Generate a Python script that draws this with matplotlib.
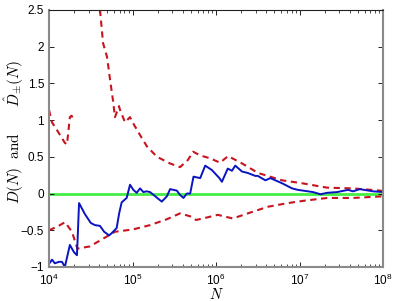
import numpy as np
import matplotlib
matplotlib.use("Agg")
import matplotlib.pyplot as plt
from matplotlib.ticker import FuncFormatter, LogLocator

plt.rcParams['font.family'] = ['Liberation Sans', 'DejaVu Sans']
plt.rcParams['mathtext.fontset'] = 'cm'

# D(N) (log10 N, value)
d_logn = [4.0, 4.036, 4.07, 4.12, 4.156, 4.19, 4.25, 4.30, 4.335, 4.36, 4.43, 4.50,
          4.55, 4.61, 4.66, 4.72, 4.75, 4.81, 4.84, 4.87, 4.93, 4.97, 5.01, 5.05,
          5.09, 5.13, 5.17, 5.21, 5.35, 5.41, 5.45, 5.53, 5.57, 5.61, 5.65, 5.69,
          5.73, 5.81, 5.87, 5.95, 6.04, 6.07, 6.14, 6.19, 6.23, 6.31, 6.38, 6.47,
          6.50, 6.59, 6.65, 6.71, 6.79, 6.91, 6.98, 7.04, 7.16, 7.25, 7.33, 7.45,
          7.58, 7.64, 7.72, 7.88, 8.0]
d_val = [-0.96, -0.90, -0.95, -0.93, -0.93, -1.0, -0.70, -0.80, -0.84, -0.13, -0.28, -0.40,
         -0.43, -0.44, -0.52, -0.57, -0.54, -0.47, -0.27, -0.12, -0.06, 0.12, 0.05, 0.01,
         0.07, 0.02, 0.03, 0.02, -0.11, -0.04, 0.06, 0.04, -0.02, -0.06, 0.0, 0.0,
         0.23, 0.21, 0.38, 0.32, 0.21, 0.16, 0.34, 0.31, 0.38, 0.30, 0.28, 0.24,
         0.24, 0.18, 0.21, 0.18, 0.14, 0.07, 0.05, 0.04, 0.02, -0.01, 0.01, 0.02,
         0.05, 0.03, 0.06, 0.03, 0.02]

# upper bound D+ (goes off the top between the two pieces)
up_logn = [4.0, 4.036, 4.12, 4.19, 4.216, 4.25, 4.27, 4.29, 4.44, 4.59, 4.611, 4.647,
           4.695, 4.731, 4.766, 4.79, 4.838, 4.85, 4.91, 4.97, 5.006, 5.114, 5.174,
           5.293, 5.449, 5.569, 5.665, 5.725, 5.808, 5.928, 6.048, 6.144, 6.311,
           6.503, 6.79, 7.03, 7.329, 7.641, 7.964, 8.0]
up_val = [1.14, 0.97, 0.82, 0.69, 0.67, 1.04, 1.06, 1.02, np.nan, 2.9, 2.5, 2.05,
          1.86, 1.55, 1.27, 1.04, 1.19, 1.14, 0.97, 1.04, 0.96, 0.75, 0.64,
          0.50, 0.41, 0.36, 0.46, 0.57, 0.52, 0.48, 0.42, 0.51, 0.41,
          0.28, 0.18, 0.14, 0.08, 0.07, 0.04, 0.03]

# lower bound D-
lo_logn = [4.0, 4.10, 4.192, 4.275, 4.34, 4.49, 4.67, 4.79, 5.0, 5.21, 5.41, 5.57,
           5.69, 5.76, 5.84, 6.02, 6.13, 6.20, 6.38, 6.62, 6.86, 7.04, 7.33, 7.64,
           7.96, 8.0]
lo_val = [-0.50, -0.45, -0.39, -0.52, -0.75, -0.72, -0.60, -0.52, -0.49, -0.43, -0.35, -0.27,
          -0.31, -0.36, -0.34, -0.29, -0.32, -0.34, -0.27, -0.18, -0.13, -0.10, -0.06, -0.06,
          -0.04, -0.04]

fig = plt.figure(figsize=(3.95, 3.01), dpi=100)
ax = fig.add_axes([0.124, 0.113, 0.846, 0.854])

red = '#c8141e'
ax.axhline(0, color='#44ee44', lw=2.0, zorder=1)
ax.plot(10 ** np.array(up_logn), up_val, '--', color=red, lw=1.5, dashes=(3, 2.2))
ax.plot(10 ** np.array(lo_logn), lo_val, '--', color=red, lw=1.5, dashes=(3, 2.2))
ax.plot(10 ** np.array(d_logn), d_val, color='#0a14c0', lw=1.4)

ax.set_xscale('log')
ax.set_xlim(1e4, 1e8)
ax.set_ylim(-1, 2.5)
ax.set_yticks([-1, -0.5, 0, 0.5, 1, 1.5, 2, 2.5])
ax.set_yticklabels(['\u22121', '\u22120.5', '0', '0.5', '1', '1.5', '2', '2.5'])
ax.xaxis.set_major_locator(LogLocator(base=10, numticks=10))
ax.xaxis.set_minor_locator(LogLocator(base=10, subs=np.arange(2, 10), numticks=20))
ax.xaxis.set_major_formatter(FuncFormatter(lambda v, p: r'$\mathregular{10^{%d}}$' % round(np.log10(v))))

ax.tick_params(which='both', direction='in', top=True, right=True, labelsize=8.5)
ax.tick_params(which='major', length=3.5, width=0.6)
ax.tick_params(which='minor', length=2, width=0.5)
ax.tick_params(axis='x', pad=4)

for s in ['left', 'right', 'bottom']:
    ax.spines[s].set_color('#8a8a8a')
    ax.spines[s].set_linewidth(1.5)
ax.spines['top'].set_color('#222222')
ax.spines['top'].set_linewidth(0.8)

ax.set_xlabel(r'$N$', fontsize=10.5)
ax.xaxis.set_label_coords(0.5, -0.078, transform=ax.transAxes)
ax.xaxis.label.set_va('top')
ax.set_ylabel(r'$D(N)\ \ \mathrm{and}\qquad\hat{D}_{\pm}(N)$', fontsize=11)
ax.yaxis.set_label_coords(-0.07, 0.525)

fig.savefig('out.png', dpi=100)
